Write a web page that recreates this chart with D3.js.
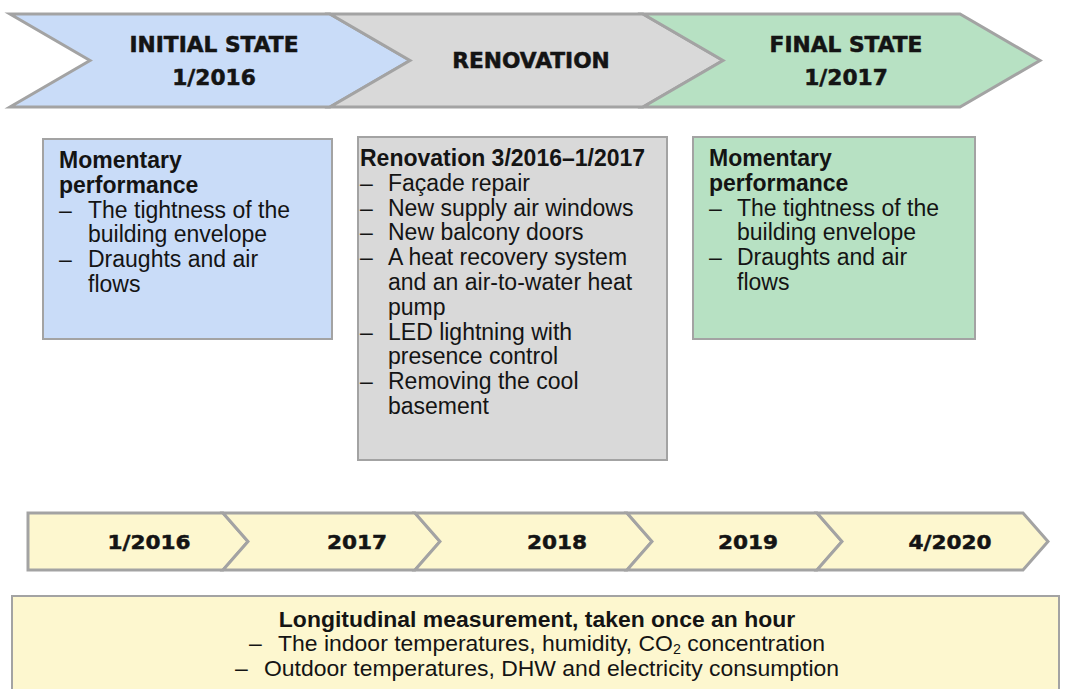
<!DOCTYPE html>
<html><head><meta charset="utf-8">
<script src="https://cdn.jsdelivr.net/npm/d3@7"></script>
<style>body{margin:0;background:#fff}svg{display:block}</style>
</head><body>
<svg id="c" width="1069" height="689"></svg>
<script>
// ---- data ----
const phaseLabels = [["INITIAL STATE","1/2016"],["RENOVATION"],["FINAL STATE","1/2017"]];
const phaseColors = ["#c9dcf8","#d9d9d9","#b7e1c3"];
const boxHeads = [["Momentary","performance"],["Renovation 3/2016\u20131/2017"],["Momentary","performance"]];
const boxItems = [
  [["The tightness of the","building envelope"],["Draughts and air","flows"]],
  [["Fa\u00e7ade repair"],["New supply air windows"],["New balcony doors"],["A heat recovery system","and an air-to-water heat","pump"],["LED lightning with","presence control"],["Removing the cool","basement"]],
  [["The tightness of the","building envelope"],["Draughts and air","flows"]]
];
const years = ["1/2016","2017","2018","2019","4/2020"];
const measTitle = "Longitudinal measurement, taken once an hour";
const measLines = [["The indoor temperatures, humidity, CO","2"," concentration"],["Outdoor temperatures, DHW and electricity consumption"]];

const svg = d3.select("#c");
const stroke = "#a3a3a3";
const ink = "#141414";

function wtext(g, x, y, sx, anchor, font, size, weight, str){
  return g.append("text")
    .attr("transform",`translate(${x},${y}) scale(${sx},1)`)
    .attr("text-anchor",anchor).attr("font-family",font).attr("font-size",size)
    .attr("font-weight",weight).attr("fill",ink).text(str);
}

function chevron(x, w, t, b, d, flatLeft){
  const m=(t+b)/2;
  const pts=[[x,t],[x+w,t],[x+w+d,m],[x+w,b],[x,b]];
  if(!flatLeft) pts.push([x+d,m]);
  return "M"+pts.map(p=>p.join(",")).join("L")+"Z";
}

// ---- top phase arrows ----
const phaseX = d3.scaleOrdinal().domain([0,1,2]).range([10,330,643]);
const phaseW = [320,313,317];
const phaseCx = [214,531,846];
const topY = 14, botY = 107, dep = 80;
const ph = svg.append("g").selectAll("g").data(phaseLabels).join("g");
ph.append("path").attr("d",(d,i)=>chevron(phaseX(i),phaseW[i],topY,botY,dep,false))
  .attr("fill",(d,i)=>phaseColors[i]).attr("stroke",stroke).attr("stroke-width",3);
ph.each(function(d,i){
  const g=d3.select(this);
  d.forEach((s,j)=>{
    const y = d.length===1? 68 : (j===0? 52: 85);
    wtext(g, phaseCx[i], y, 1.06, "middle", "DejaVu Sans", 20.5, "bold", s)
      .attr("stroke",ink).attr("stroke-width",0.5);
  });
});

// ---- info boxes ----
const boxes = [{x:43,y:139,w:289,h:200,tx:59,dx:59,ix:88},{x:358,y:137,w:309,h:323,tx:360,dx:360,ix:388},{x:693,y:137,w:282,h:202,tx:709,dx:709,ix:737}];
const lh = 24.8, bfs = 23, bsx = 1.0, bfont = "Liberation Sans, Arial";
boxes.forEach((b,i)=>{
  const g=svg.append("g");
  g.append("rect").attr("x",b.x).attr("y",b.y).attr("width",b.w).attr("height",b.h)
    .attr("fill",phaseColors[i]).attr("stroke",stroke).attr("stroke-width",2);
  let y = b.y+29;
  boxHeads[i].forEach(s=>{ wtext(g,b.tx,y,bsx,"start",bfont,bfs,"bold",s); y+=lh; });
  boxItems[i].forEach(item=>{
    wtext(g,b.dx,y,bsx,"start",bfont,bfs,"normal","\u2013");
    item.forEach(s=>{ wtext(g,b.ix,y,bsx,"start",bfont,bfs,"normal",s); y+=lh; });
  });
});

// ---- year timeline ----
const segEdges = [28,223,415,627,817,1023];
const yearCx = d3.scaleOrdinal().domain(years).range([149,357,557,748,950]);
const tTop=513, tBot=570, tDep=25;
const tg = svg.append("g").selectAll("g").data(years).join("g");
tg.append("path").attr("d",(d,i)=>chevron(segEdges[i],segEdges[i+1]-segEdges[i],tTop,tBot,tDep,i===0))
  .attr("fill","#fdf7cf").attr("stroke",stroke).attr("stroke-width",3);
tg.each(function(d){
  wtext(d3.select(this), yearCx(d), 549, 1.08, "middle", "DejaVu Sans", 20, "bold", d)
    .attr("stroke",ink).attr("stroke-width",0.5);
});

// ---- measurement box ----
const mg = svg.append("g");
mg.append("rect").attr("x",12).attr("y",596).attr("width",1047).attr("height",110)
  .attr("fill","#fdf7cf").attr("stroke",stroke).attr("stroke-width",2);
const mcx = 537, msx = 1.02, mfs = 22.5;
wtext(mg, mcx, 627, msx, "middle", bfont, mfs, "bold", measTitle);
measLines.forEach((parts,i)=>{
  const t = wtext(mg, mcx, 651+i*25, msx, "middle", bfont, mfs, "normal", "");
  t.append("tspan").text("\u2013");
  parts.forEach((p,k)=>{
    const s=t.append("tspan").text(p);
    if(k===0) s.attr("dx",16);
    if(parts.length>1 && k===1){ s.attr("font-size",14).attr("dy",3); }
    if(parts.length>1 && k===2){ s.attr("dy",-3); }
  });
});
</script>
</body></html>
